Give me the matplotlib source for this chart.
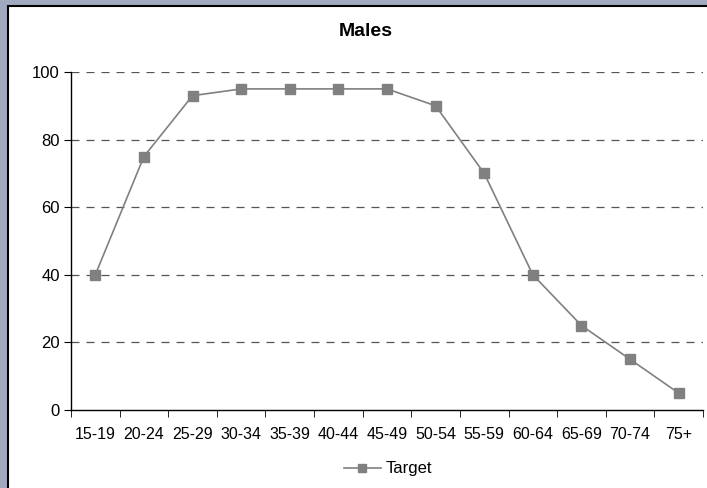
import matplotlib
matplotlib.use("Agg")
import matplotlib.pyplot as plt
from matplotlib.patches import Rectangle

plt.rcParams['font.family'] = ['Liberation Sans', 'DejaVu Sans']

# age groups and target values
age_groups = ['15-19', '20-24', '25-29', '30-34', '35-39', '40-44', '45-49',
              '50-54', '55-59', '60-64', '65-69', '70-74', '75+']
target = [40, 75, 93, 95, 95, 95, 95, 90, 70, 40, 25, 15, 5]
y_ticks = [0, 20, 40, 60, 80, 100]

W, H = 707, 488
fig = plt.figure(figsize=(W / 100, H / 100), dpi=100)
fig.patch.set_facecolor('#a0a9c0')

# white chart area with black edge
fig.patches.append(Rectangle((8 / W, -0.01), 1.02, 1 - 6 / H + 0.01,
                             transform=fig.transFigure, facecolor='white',
                             edgecolor='black', linewidth=1.5, zorder=-10))

ax = fig.add_axes([71 / W, 1 - 410 / H, (703 - 71) / W, (410 - 72) / H])
ax.set_facecolor('none')

x = list(range(len(age_groups)))
line, = ax.plot(x, target, color='#808080', linewidth=1.2, marker='s',
                markersize=7, markerfacecolor='#808080',
                markeredgecolor='#808080', label='Target', zorder=3)

ax.set_xlim(-0.5, len(age_groups) - 0.5)
ax.set_ylim(0, 100)
ax.set_yticks(y_ticks)
ax.set_xticks(x)
ax.set_xticklabels(age_groups, fontsize=11.5)
ax.tick_params(axis='x', length=0, pad=12)
ax.set_xticks([i - 0.5 for i in range(len(age_groups) + 1)], minor=True)
ax.tick_params(axis='x', which='minor', length=5, direction='out', color='black')
ax.tick_params(axis='y', length=5, direction='out', labelsize=12, pad=3)

for v in y_ticks[1:]:
    ax.axhline(v, color='#555555', linestyle=(0, (6.4, 5.6)), linewidth=0.9, zorder=1)

for s in ['top', 'right']:
    ax.spines[s].set_visible(False)
ax.spines['left'].set_linewidth(1)
ax.spines['bottom'].set_linewidth(1)

fig.text(366 / W, 1 - 32 / H, 'Males', ha='center', va='center',
         fontsize=14, fontweight='bold')

fig.legend(handles=[line], loc='center', bbox_to_anchor=(388 / W, 1 - 469 / H),
           frameon=False, fontsize=12, handlelength=2.2, handletextpad=0.3,
           markerscale=0.8)

fig.savefig('out.png', dpi=100, facecolor=fig.get_facecolor())
